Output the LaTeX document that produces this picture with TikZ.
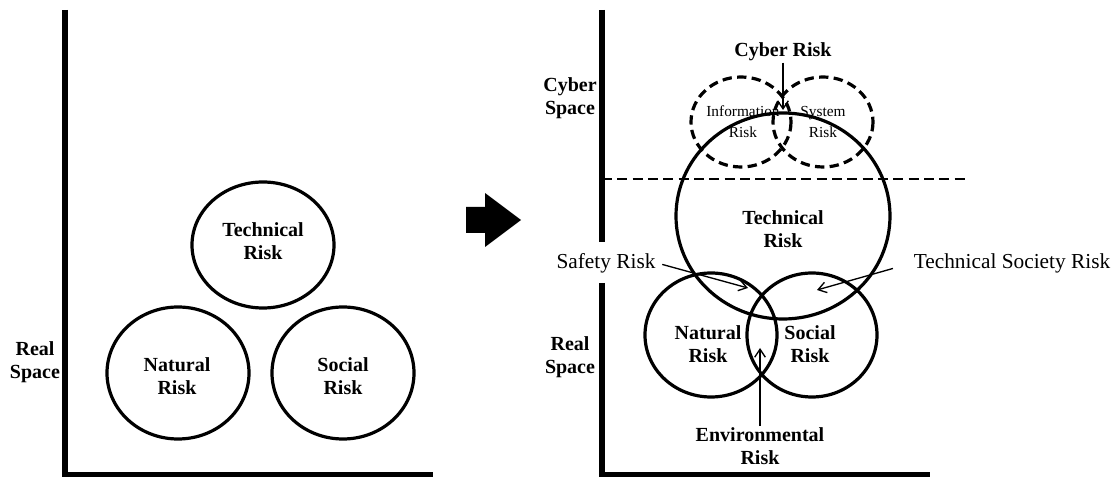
\documentclass[tikz,border=0pt]{standalone}
\usepackage{fontspec}
\setmainfont{Liberation Serif}
\usetikzlibrary{arrows.meta}

\tikzset{
    riskring/.style={line width=2.4pt},
    cyberring/.style={line width=2.4pt,dash pattern=on 7pt off 4pt},
    axisline/.style={line width=4.5pt},
    boldlabel/.style={align=center,inner sep=1pt,font=\bfseries\fontsize{15}{17}\selectfont},
    plainlabel/.style={align=center,inner sep=1pt,font=\fontsize{16}{19}\selectfont},
    smalllabel/.style={align=center,inner sep=1pt,font=\fontsize{11.5}{16}\selectfont},
    pointer/.style={line width=1pt,-{Straight Barb[length=6pt,width=8pt]}}
}

\begin{document}
\begin{tikzpicture}[x=0.75pt,y=-0.75pt]
\useasboundingbox (0,0) rectangle (1115,477);

\coordinate (lTopPt) at (65,10);
\coordinate (lOrgPt) at (65,475);
\coordinate (lEndPt) at (433,475);
\coordinate (rTopPt) at (602,10);
\coordinate (rGapAPt) at (602,242);
\coordinate (rGapBPt) at (602,283);
\coordinate (rOrgPt) at (602,475);
\coordinate (rEndPt) at (930,475);
\coordinate (rSplitAPt) at (602,179);
\coordinate (rSplitBPt) at (968,179);

\draw[axisline] (lTopPt) -- (lOrgPt) -- (lEndPt);
\draw[axisline] (rTopPt) -- (rGapAPt);
\draw[axisline] (rGapBPt) -- (rOrgPt) -- (rEndPt);
\draw[line width=2pt,dash pattern=on 7.5pt off 4pt] (rSplitAPt) -- (rSplitBPt);

\coordinate (lTechPt) at (263,245);
\coordinate (lNatPt) at (178,373);
\coordinate (lSocPt) at (343,373);
\coordinate (rTechPt) at (783,216);
\coordinate (rInfoPt) at (741,122);
\coordinate (rSysPt) at (823,122);
\coordinate (rNatPt) at (711,335);
\coordinate (rSocPt) at (812,335);

\foreach \c/\rx/\ry in
{lTechPt/71/63,
    lNatPt/71/66,
    lSocPt/71/66,
    rTechPt/107/103,
    rNatPt/66/62,
    rSocPt/65/62}
{
    \draw[riskring] (\c) ellipse [x radius=\rx, y radius=\ry];
};
\foreach \c in {rInfoPt,rSysPt}
{
    \draw[cyberring] (\c) ellipse [x radius=50, y radius=45];
};

\foreach \n/\x/\y/\t in
{lTech/263/241/{Technical\\Risk},
    lNat/177/376/{Natural\\Risk},
    lSoc/343/376/{Social\\Risk},
    lReal/35/362/{Real\\Space},
    rCyberSp/570/98/{Cyber\\Space},
    rReal/570/357/{Real\\Space},
    rTech/783/229/{Technical\\Risk},
    rNat/708/344/{Natural\\Risk},
    rSoc/810/344/{Social\\Risk},
    rEnv/760/446/{Environmental\\Risk},
    rCyber/783/52/{Cyber Risk}}
{
    \node[boldlabel] (\n) at (\x,\y) {\t};
};
\node[smalllabel] (rInfo) at (743,122) {Information\\Risk};
\node[smalllabel] (rSys) at (823,122) {System\\Risk};
\node[plainlabel] (rSafety) at (606,263) {Safety Risk};
\node[plainlabel] (rTechSoc) at (1012,263) {Technical Society Risk};

\coordinate (cCyberPt) at (783,110);
\coordinate (cSafetyPt) at (748,288);
\coordinate (cTechSocPt) at (817,290);
\coordinate (cEnvPt) at (760,348);

\draw[pointer] (rCyber.south) -- (cCyberPt);
\draw[pointer,shorten <=4pt] (rSafety.east) -- (cSafetyPt);
\draw[pointer,shorten <=15pt] (rTechSoc.west) -- (cTechSocPt);
\draw[pointer] (rEnv.north) -- (cEnvPt);

\fill (466,207) -- (485,207) -- (485,193) -- (521,220) -- (485,247) -- (485,233) -- (466,233) -- cycle;

\end{tikzpicture}
\end{document}
